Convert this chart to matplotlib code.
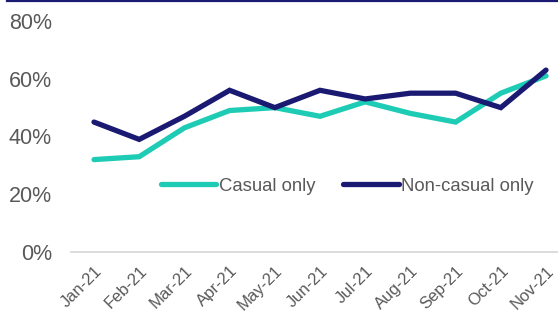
import matplotlib.pyplot as plt
from matplotlib.lines import Line2D
import numpy as np

months = ['Jan-21', 'Feb-21', 'Mar-21', 'Apr-21', 'May-21', 'Jun-21',
          'Jul-21', 'Aug-21', 'Sep-21', 'Oct-21', 'Nov-21']
casual = [32, 33, 43, 49, 50, 47, 52, 48, 45, 55, 61]
non_casual = [45, 39, 47, 56, 50, 56, 53, 55, 55, 50, 63]

teal = '#1ecbb4'
navy = '#1b1a73'
grey = '#595959'

plt.rcParams['font.family'] = ['Liberation Sans', 'DejaVu Sans']

fig = plt.figure(figsize=(5.58, 3.26), dpi=100)
ax = fig.add_axes([71.4 / 558, 74 / 326, 497.2 / 558, 231 / 326])

x = np.arange(len(months))
ax.plot(x, np.array(casual) / 100, color=teal, lw=3.8, solid_capstyle='round',
        solid_joinstyle='miter', label='Casual only')
ax.plot(x, np.array(non_casual) / 100, color=navy, lw=3.8, solid_capstyle='round',
        solid_joinstyle='miter', label='Non-casual only')

ax.set_xlim(-0.5, len(months) - 0.5)
ax.set_ylim(0, 0.8)
ax.set_yticks([0, 0.2, 0.4, 0.6, 0.8])
ax.set_yticklabels(['0%', '20%', '40%', '60%', '80%'])
ax.set_xticks(x)
ax.set_xticklabels(months, rotation=45, ha='right', rotation_mode='anchor')

for s in ['top', 'right', 'left']:
    ax.spines[s].set_visible(False)
ax.spines['bottom'].set_color('#d9d9d9')
ax.spines['bottom'].set_linewidth(1.3)
ax.spines['bottom'].set_clip_on(False)

ax.tick_params(axis='y', length=0, pad=14, labelsize=15.5, labelcolor=grey)
ax.tick_params(axis='x', length=0, pad=8, labelsize=12, labelcolor=grey)

leg = ax.legend(loc='center', bbox_to_anchor=(0.555, 0.285), ncol=2, frameon=False,
                fontsize=13.3, handlelength=3.0, handletextpad=0.15,
                columnspacing=1.5, labelcolor=grey)

# thin navy rule along the top of the figure
fig.add_artist(Line2D([7 / 558, 1], [325 / 326, 325 / 326], color=navy, lw=1.6,
                      transform=fig.transFigure))

fig.savefig('out.png', dpi=100)
